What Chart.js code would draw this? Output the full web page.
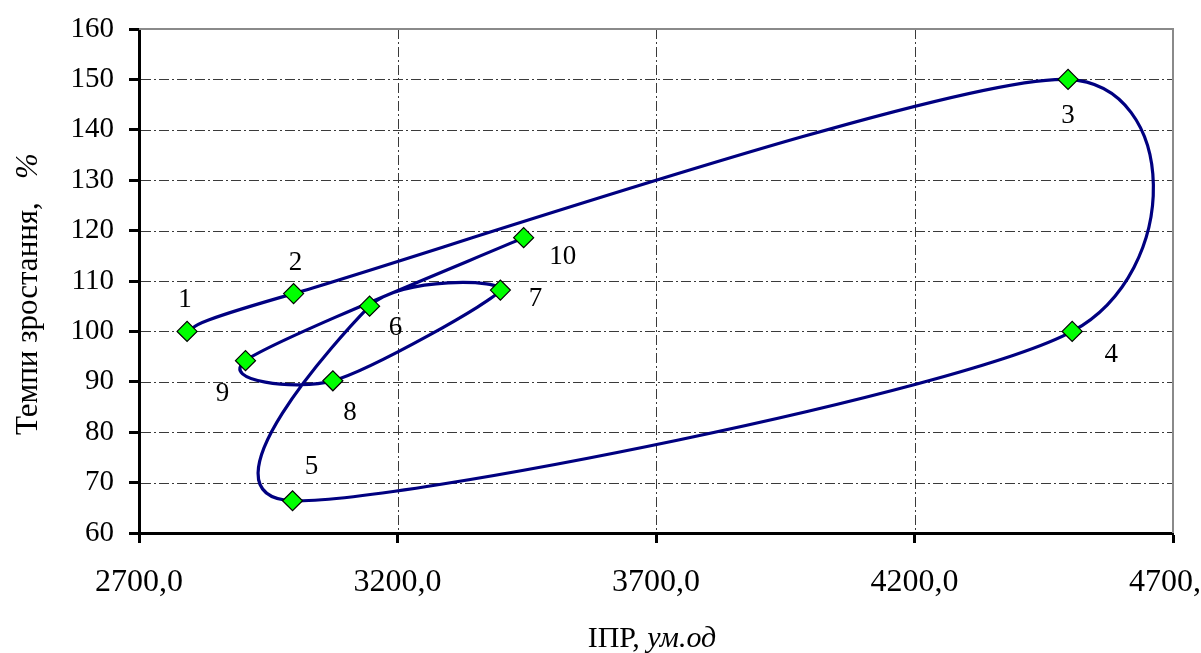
<!DOCTYPE html>
<html>
<head>
<meta charset="utf-8">
<script src="https://cdn.jsdelivr.net/npm/chart.js@4/dist/chart.umd.min.js"></script>
<style>
  html, body { margin: 0; padding: 0; background: #fff; }
  canvas { display: block; }
</style>
</head>
<body>
<canvas id="chart" width="1201" height="653"></canvas>
<script>
// Observation numbers shown next to each marker
const pointNames = ['1', '2', '3', '4', '5', '6', '7', '8', '9', '10'];
// ІПР, ум.од
const ipr = [2793, 2999, 4497, 4505, 2997, 3146, 3399, 3075, 2906, 3444];
// Темпи зростання, %
const growth = [100.0, 107.5, 150.0, 100.0, 66.4, 105.0, 108.2, 90.2, 94.2, 118.6];

const xTicks = [2700, 3200, 3700, 4200, 4700];
const yTicks = [60, 70, 80, 90, 100, 110, 120, 130, 140, 150, 160];

const xTitleParts = ['ІПР, ', 'ум.од'];
const yTitleParts = ['Темпи зростання,   ', '%'];

// where each number sits relative to its marker (px)
const labelOffsets = [
  [-2, -31], [2, -31], [0, 37], [39, 24], [19, -34],
  [26, 22], [35, 9], [17, 32], [-23, 33], [39, 19]
];

const SERIF = '"Liberation Serif", "Times New Roman", serif';

const points = ipr.map((v, i) => ({ x: v, y: growth[i] }));

const fmtX = v => v.toFixed(1).replace('.', ',');

// Catmull-Rom style smoothing of the connecting line (control arm = chord/7)
const ARM = 1 / 7;
const smoothPlugin = {
  id: 'uniformSpline',
  beforeDatasetDraw(chart, args) {
    const meta = args.meta;
    const line = meta.dataset;
    if (!line) return;
    line.updateControlPoints(chart.chartArea, meta.iScale.axis);
    const pts = meta.data;
    const n = pts.length;
    for (let i = 0; i < n; i++) {
      const p = pts[i];
      const prev = pts[Math.max(0, i - 1)];
      const next = pts[Math.min(n - 1, i + 1)];
      const tx = (next.x - prev.x) * ARM;
      const ty = (next.y - prev.y) * ARM;
      p.cp1x = p.x - tx; p.cp1y = p.y - ty;
      p.cp2x = p.x + tx; p.cp2y = p.y + ty;
    }
    line._pointsUpdated = true;
    line._path = undefined;
  }
};

// dash-dot grid and the grey frame of the plot area
const gridPlugin = {
  id: 'dashDotGrid',
  beforeDatasetsDraw(chart) {
    const { ctx, chartArea: a, scales: { x, y } } = chart;
    ctx.save();
    ctx.lineWidth = 1;
    ctx.strokeStyle = '#3a3a3a';
    ctx.setLineDash([10, 3, 2, 3]);
    yTicks.forEach(v => {
      if (v === y.min || v === y.max) return;
      const py = Math.round(y.getPixelForValue(v)) + 0.5;
      ctx.beginPath();
      ctx.moveTo(a.left + 2, py);
      ctx.lineTo(a.right, py);
      ctx.stroke();
    });
    xTicks.forEach(v => {
      if (v === x.min || v === x.max) return;
      const px = Math.round(x.getPixelForValue(v)) + 0.5;
      ctx.beginPath();
      ctx.moveTo(px, a.top);
      ctx.lineTo(px, a.bottom - 2);
      ctx.stroke();
    });
    ctx.setLineDash([]);
    ctx.strokeStyle = '#8a8a8a';
    ctx.lineWidth = 2;
    ctx.beginPath();
    ctx.moveTo(a.left, a.top);
    ctx.lineTo(a.right, a.top);
    ctx.lineTo(a.right, a.bottom);
    ctx.stroke();
    ctx.restore();
  }
};

function drawParts(ctx, parts, fonts, x, y) {
  const widths = parts.map((p, i) => { ctx.font = fonts[i]; return ctx.measureText(p).width; });
  let cx = x - widths.reduce((s, w) => s + w, 0) / 2;
  parts.forEach((p, i) => {
    ctx.font = fonts[i];
    ctx.fillText(p, cx, y);
    cx += widths[i];
  });
}

// numbers beside markers and the two axis titles
const textPlugin = {
  id: 'chartTexts',
  afterDatasetsDraw(chart) {
    const { ctx, chartArea: a } = chart;
    const meta = chart.getDatasetMeta(0);
    ctx.save();
    ctx.fillStyle = '#000';
    ctx.font = '27px ' + SERIF;
    ctx.textAlign = 'center';
    ctx.textBaseline = 'middle';
    meta.data.forEach((pt, i) => {
      const [dx, dy] = labelOffsets[i];
      ctx.fillText(pointNames[i], pt.x + dx, pt.y + dy);
    });

    ctx.textAlign = 'left';
    ctx.textBaseline = 'alphabetic';
    drawParts(ctx, xTitleParts, ['30px ' + SERIF, 'italic 30px ' + SERIF],
      (a.left + a.right) / 2 - 4, 647);

    ctx.translate(37, (a.top + a.bottom) / 2 + 13);
    ctx.rotate(-Math.PI / 2);
    drawParts(ctx, yTitleParts, ['31px ' + SERIF, 'italic 31px ' + SERIF], 0, 0);
    ctx.restore();
  }
};

new Chart(document.getElementById('chart'), {
  type: 'scatter',
  data: {
    datasets: [{
      data: points,
      showLine: true,
      tension: 0.5,
      borderColor: '#000080',
      borderWidth: 3.2,
      pointStyle: 'rectRot',
      pointRadius: 10,
      pointHoverRadius: 10,
      pointBackgroundColor: '#00ff00',
      pointBorderColor: '#000',
      pointBorderWidth: 1.2
    }]
  },
  options: {
    responsive: false,
    animation: false,
    events: [],
    layout: { padding: { top: 29, right: 28, left: 0, bottom: 0 } },
    plugins: { legend: { display: false }, tooltip: { enabled: false } },
    scales: {
      x: {
        type: 'linear',
        min: xTicks[0],
        max: xTicks[xTicks.length - 1],
        afterBuildTicks: s => { s.ticks = xTicks.map(v => ({ value: v })); },
        afterFit: s => { s.height = 120; s.paddingLeft = 0; s.paddingRight = 0; },
        ticks: {
          callback: v => fmtX(v),
          color: '#000',
          font: { family: SERIF, size: 32 },
          padding: 20,
          maxRotation: 0,
          autoSkip: false
        },
        grid: {
          drawOnChartArea: false,
          drawTicks: true,
          tickLength: 10,
          tickWidth: 3,
          tickColor: '#000'
        },
        border: { display: true, color: '#000', width: 3 }
      },
      y: {
        type: 'linear',
        min: yTicks[0],
        max: yTicks[yTicks.length - 1],
        afterBuildTicks: s => { s.ticks = yTicks.map(v => ({ value: v })); },
        afterFit: s => { s.width = 139; s.paddingTop = 0; s.paddingBottom = 0; },
        ticks: {
          color: '#000',
          font: { family: SERIF, size: 29 },
          padding: 15,
          autoSkip: false
        },
        grid: {
          drawOnChartArea: false,
          drawTicks: true,
          tickLength: 10,
          tickWidth: 3,
          tickColor: '#000'
        },
        border: { display: true, color: '#000', width: 3 }
      }
    }
  },
  plugins: [gridPlugin, smoothPlugin, textPlugin]
});
</script>
</body>
</html>
